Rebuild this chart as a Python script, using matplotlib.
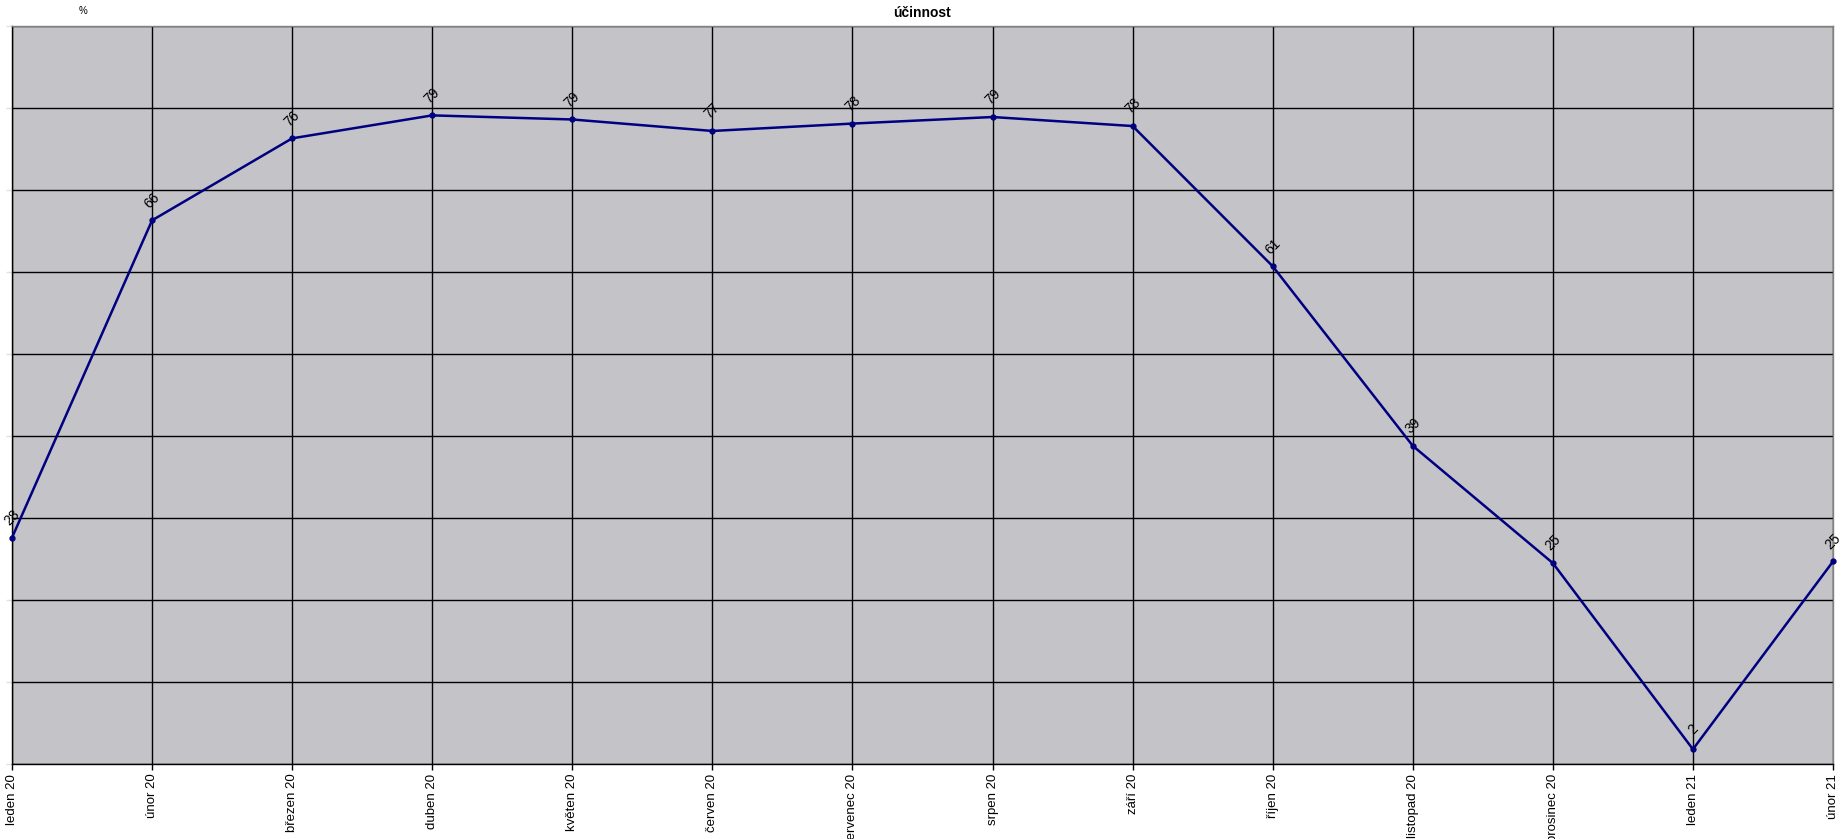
import matplotlib
matplotlib.use("Agg")
import matplotlib.pyplot as plt

months = ["leden 20", "únor 20", "březen 20", "duben 20", "květen 20", "červen 20",
          "červenec 20", "srpen 20", "září 20", "říjen 20", "listopad 20", "prosinec 20",
          "leden 21", "únor 21"]
values = [27.6, 66.3, 76.3, 79.1, 78.6, 77.2, 78.1, 78.9, 77.8, 60.7, 38.8, 24.5, 1.8, 24.7]
labels = ["28", "66", "76", "79", "79", "77", "78", "79", "78", "61", "39", "25", "2", "25"]
yticks = list(range(0, 91, 10))

plt.rcParams['font.family'] = ['Liberation Sans', 'DejaVu Sans']

fig = plt.figure(figsize=(18.45, 8.39), dpi=100)
ax = fig.add_axes([12/1845, 1 - 764/839, (1833 - 12)/1845, (764 - 26)/839])
ax.set_facecolor('#c4c3c7')

x = list(range(len(months)))
ax.plot(x, values, color='#000080', lw=1.8, marker='o', ms=3.5, clip_on=False, zorder=3)
for xi, v, lab in zip(x, values, labels):
    ax.annotate(lab, (xi, v), xytext=(0, 20), textcoords='offset pixels',
                ha='center', va='center', rotation=45, fontsize=10, color='black',
                annotation_clip=False, zorder=4)

ax.set_xlim(0, len(months) - 1)
ax.set_ylim(0, 90)
ax.set_xticks(x)
ax.set_xticklabels(months, rotation=90, fontsize=9.5, va='top', ha='center')
ax.set_yticks(yticks)
ax.set_yticklabels([])
ax.tick_params(axis='x', length=4, width=1, color='black', pad=3)
ax.tick_params(axis='y', length=4, width=1, color='#e0e0e0')
ax.grid(True, color='black', lw=1)
ax.set_axisbelow(True)
for s in ['top', 'right']:
    ax.spines[s].set_color('#808080')
    ax.spines[s].set_linewidth(1)
for s in ['left', 'bottom']:
    ax.spines[s].set_color('black')
    ax.spines[s].set_linewidth(1)

fig.text(922/1845, 1 - 13/839, "účinnost", ha='center', va='center', fontsize=10, fontweight='bold')
fig.text(83/1845, 1 - 11/839, "%", ha='center', va='center', fontsize=7)

fig.savefig("out.png", dpi=100, facecolor='white')
